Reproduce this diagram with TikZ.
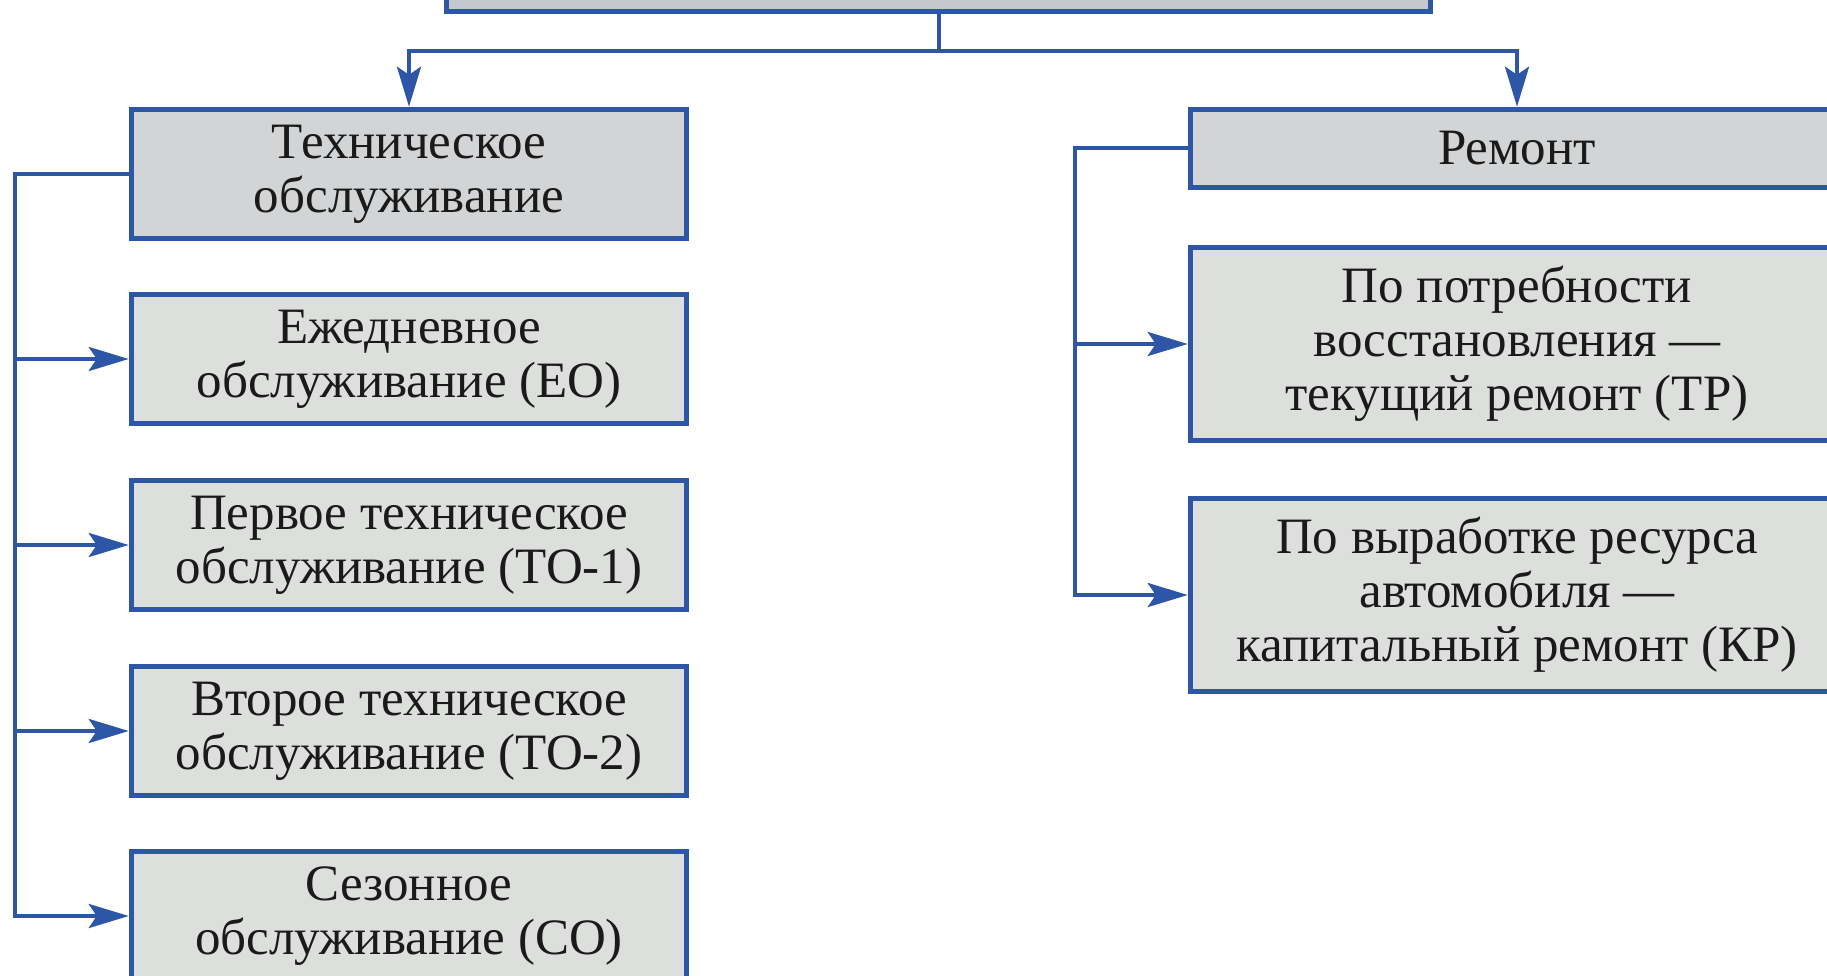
\documentclass[tikz,border=0pt]{standalone}
\usepackage{fontspec}
\setmainfont{Liberation Serif}
\usetikzlibrary{arrows.meta}
\definecolor{bblue}{HTML}{2D56A6}
\definecolor{darkfill}{HTML}{D2D4D6}
\definecolor{lightfill}{HTML}{DDDFDD}
\definecolor{topfill}{HTML}{C5C8CC}
\definecolor{txt}{HTML}{1A1A1A}
\begin{document}
\begin{tikzpicture}[x=1pt,y=-1pt,
  box/.style={draw=bblue,line width=5.5pt,inner sep=0pt,align=center,
    font=\fontsize{51}{54}\selectfont,text=txt},
  lbox/.style={box,minimum width=555pt,minimum height=129pt},
  rbox/.style={box,minimum width=653pt,minimum height=193pt},
  conn/.style={draw=bblue,line width=4pt},
  arr/.style={-{Stealth[length=40pt,width=24pt,inset=8pt]}}]
\useasboundingbox (0,0) rectangle (1827,976);
\clip (0,0) rectangle (1827,976);
\fill[white] (0,0) rectangle (1827,976);
% top box (cut off)
\node[box,fill=topfill,minimum width=984pt,minimum height=79pt] (top) at (938.5,-28) {};
% left column
\node[lbox,fill=darkfill] (TO) at (409,174) {Техническое\\обслуживание};
\node[lbox,fill=lightfill] (EO) at (409,359) {Ежедневное\\обслуживание (ЕО)};
\node[lbox,fill=lightfill] (TO1) at (409,545) {Первое техническое\\обслуживание (ТО-1)};
\node[lbox,fill=lightfill] (TO2) at (409,731) {Второе техническое\\обслуживание (ТО-2)};
\node[lbox,fill=lightfill] (CO) at (409,916) {Сезонное\\обслуживание (СО)};
% right column
\node[box,fill=darkfill,minimum width=653pt,minimum height=78pt] (Rem) at (1517,148.5) {Ремонт};
\node[rbox,fill=lightfill] (TR) at (1517,344) {По потребности\\восстановления —\\текущий ремонт (ТР)};
\node[rbox,fill=lightfill] (KR) at (1517,595) {По выработке ресурса\\автомобиля —\\капитальный ремонт (КР)};
% top connectors
\coordinate (bus) at (0,51);
\draw[conn] (top.south) -- (top.south |- bus);
\draw[conn,arr] (top.south |- bus) -| (TO.north);
\draw[conn,arr] (top.south |- bus) -| (Rem.north);
% left bus
\coordinate (lb) at (15,0);
\draw[conn,arr] (TO.west) -- (lb |- TO.west) -- (lb |- CO.west) -- (CO.west);
\draw[conn,arr] (lb |- EO.west) -- (EO.west);
\draw[conn,arr] (lb |- TO1.west) -- (TO1.west);
\draw[conn,arr] (lb |- TO2.west) -- (TO2.west);
% right bus
\coordinate (rb) at (1075,0);
\draw[conn,arr] (Rem.west) -- (rb |- Rem.west) -- (rb |- KR.west) -- (KR.west);
\draw[conn,arr] (rb |- TR.west) -- (TR.west);
\end{tikzpicture}
\end{document}
